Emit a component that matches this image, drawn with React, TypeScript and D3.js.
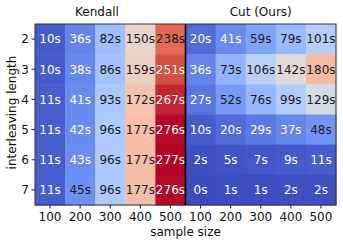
import * as d3 from "d3";
import React, { useEffect, useRef } from "react";

const sampleSizes = ["100", "200", "300", "400", "500"];
const lengths = ["2", "3", "4", "5", "6", "7"];
// seconds, rows = interleaving length 2..7, cols = sample size 100..500
const kendall = [
  [10, 36, 82, 150, 238],
  [10, 38, 86, 159, 251],
  [11, 41, 93, 172, 267],
  [11, 42, 96, 177, 276],
  [11, 43, 96, 177, 277],
  [11, 45, 96, 177, 276],
];
const cut = [
  [20, 41, 59, 79, 101],
  [36, 73, 106, 142, 180],
  [27, 52, 76, 99, 129],
  [10, 20, 29, 37, 48],
  [2, 5, 7, 9, 11],
  [0, 1, 1, 2, 2],
];
const panels = ["Kendall", "Cut (Ours)"];

// matplotlib coolwarm stops
const coolwarm = d3.interpolateRgbBasis([
  "#3b4cc0", "#4d68d7", "#6282ea", "#779af7", "#8db0fe", "#a3c2ff",
  "#b8d0f9", "#ccd9ee", "#dddddd", "#ecd3c5", "#f5c4ac", "#f7b194",
  "#f49a7b", "#ec7f63", "#de604d", "#cb3e38", "#b40426",
]);

export default function App() {
  const ref = useRef<SVGSVGElement>(null);

  useEffect(() => {
    const width = 343;
    const height = 245;
    const margin = { left: 35, right: 7, top: 24, bottom: 40 };
    const svg = d3.select(ref.current);
    svg.selectAll("*").remove();
    svg.attr("width", width).attr("height", height);

    const g = svg.append("g").attr("font-family", "DejaVu Sans").attr("font-size", 12);

    const innerW = width - margin.left - margin.right;
    const cols = panels.flatMap((p) => sampleSizes.map((s) => `${p}|${s}`));
    const x = d3.scaleBand().domain(cols).range([margin.left, margin.left + innerW]);
    const y = d3.scaleBand().domain(lengths).range([margin.top, height - margin.bottom]);

    const vmax = d3.max([...kendall.flat(), ...cut.flat()]) as number;
    const color = d3.scaleSequential(coolwarm).domain([0, vmax]);

    const cells = [kendall, cut].flatMap((m, pi) =>
      m.flatMap((row, ri) =>
        row.map((v, ci) => ({ v, col: `${panels[pi]}|${sampleSizes[ci]}`, row: lengths[ri] }))
      )
    );

    g.selectAll("rect.cell")
      .data(cells)
      .join("rect")
      .attr("class", "cell")
      .attr("x", (d) => x(d.col)!)
      .attr("y", (d) => y(d.row)!)
      .attr("width", x.bandwidth() + 0.5)
      .attr("height", y.bandwidth() + 0.5)
      .attr("fill", (d) => color(d.v));

    g.selectAll("text.val")
      .data(cells)
      .join("text")
      .attr("class", "val")
      .attr("x", (d) => x(d.col)! + x.bandwidth() / 2)
      .attr("y", (d) => y(d.row)! + y.bandwidth() / 2)
      .attr("dy", "0.36em")
      .attr("text-anchor", "middle")
      .attr("fill", (d) => {
        const t = d.v / vmax;
        return t < 0.16 || t > 0.88 ? "#ffffff" : "#1a1a1a";
      })
      .text((d) => `${d.v}s`);

    // frame + divider
    const x0 = margin.left;
    const x1 = margin.left + innerW;
    const y0 = margin.top;
    const y1 = height - margin.bottom;
    g.append("rect")
      .attr("x", x0)
      .attr("y", y0)
      .attr("width", x1 - x0)
      .attr("height", y1 - y0)
      .attr("fill", "none")
      .attr("stroke", "#333")
      .attr("stroke-width", 1);
    const mid = x(`${panels[1]}|${sampleSizes[0]}`)!;
    g.append("line")
      .attr("x1", mid)
      .attr("x2", mid)
      .attr("y1", y0)
      .attr("y2", y1)
      .attr("stroke", "#000")
      .attr("stroke-width", 1.6);

    // x axis
    const xa = g.append("g");
    cols.forEach((c) => {
      const cx = x(c)! + x.bandwidth() / 2;
      xa.append("line").attr("x1", cx).attr("x2", cx).attr("y1", y1).attr("y2", y1 + 3.5).attr("stroke", "#222");
      xa.append("text")
        .attr("x", cx)
        .attr("y", y1 + 16)
        .attr("text-anchor", "middle")
        .attr("fill", "#111")
        .text(c.split("|")[1]);
    });
    g.append("text")
      .attr("x", mid)
      .attr("y", y1 + 31)
      .attr("text-anchor", "middle")
      .attr("fill", "#111")
      .text("sample size");

    // y axis
    lengths.forEach((l) => {
      const cy = y(l)! + y.bandwidth() / 2;
      g.append("line").attr("x1", x0 - 3.5).attr("x2", x0).attr("y1", cy).attr("y2", cy).attr("stroke", "#222");
      g.append("text")
        .attr("x", x0 - 6)
        .attr("y", cy)
        .attr("dy", "0.36em")
        .attr("text-anchor", "end")
        .attr("fill", "#111")
        .text(l);
    });
    g.append("text")
      .attr("transform", `translate(12,${(y0 + y1) / 2 - 2}) rotate(-90)`)
      .attr("text-anchor", "middle")
      .attr("dy", "0.36em")
      .attr("fill", "#111")
      .text("interleaving length");

    // panel titles
    g.append("text").attr("x", 97).attr("y", 16).attr("text-anchor", "middle").attr("fill", "#111").text(panels[0]);
    g.append("text")
      .attr("x", (mid + x1) / 2)
      .attr("y", 16)
      .attr("text-anchor", "middle")
      .attr("fill", "#111")
      .text(panels[1]);
  }, []);

  return (
    <div style={{ position: "absolute", left: 0, top: 0 }}>
      <svg ref={ref} style={{ display: "block" }} />
    </div>
  );
}
